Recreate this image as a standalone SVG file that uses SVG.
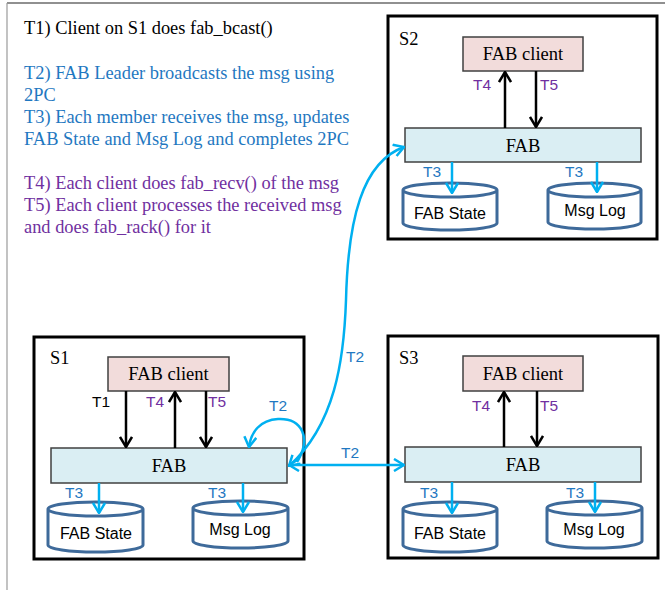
<svg xmlns="http://www.w3.org/2000/svg" width="665" height="590" viewBox="0 0 665 590">
  <style>
    .serif { font-family: "Liberation Serif", "Times New Roman", serif; }
    .sans { font-family: "Liberation Sans", Arial, sans-serif; }
    .note { font-size: 18.4px; }
    .black { fill: #000; }
    .blue { fill: #1f78c1; }
    .purple { fill: #7030a0; }
    .server { fill: #fff; stroke: #000; stroke-width: 3; }
    .client { fill: #f2dcdb; stroke: #404040; stroke-width: 1.5; }
    .fab { fill: #daeef3; stroke: #404040; stroke-width: 1.5; }
    .cyl { fill: #fff; stroke: #3e6a9a; stroke-width: 3; }
    .boxlabel { font-size: 18.5px; text-anchor: middle; fill: #000; }
    .dblabel { font-size: 16px; text-anchor: middle; fill: #000; }
    .tlabel { font-size: 15.5px; text-anchor: middle; }
    .callarrow { stroke: #000; stroke-width: 2.5; fill: none; marker-end: url(#headBlack); }
    .netarrow { stroke: #00b0f0; stroke-width: 2.5; fill: none; }
  </style>
  <defs>
    <marker id="headBlack" viewBox="0 0 12 14" refX="11" refY="7" markerWidth="12" markerHeight="14" markerUnits="userSpaceOnUse" orient="auto-start-reverse">
      <path d="M1,1 L11,7 L1,13" fill="none" stroke="#000" stroke-width="2.5"/>
    </marker>
    <marker id="headBlue" viewBox="0 0 12 14" refX="11" refY="7" markerWidth="12" markerHeight="14" markerUnits="userSpaceOnUse" orient="auto-start-reverse">
      <path d="M1,1 L11,7 L1,13" fill="none" stroke="#00b0f0" stroke-width="2.5"/>
    </marker>
  </defs>

  <!-- page frame -->
  <line x1="7" y1="3" x2="665" y2="3" stroke="#222" stroke-width="1.2"/>
  <line x1="7" y1="3" x2="7" y2="590" stroke="#9a9a9a" stroke-width="1.2"/>

  <!-- legend -->
  <g id="legend" class="serif note">
    <text x="24" y="34" class="black">T1) Client on S1 does fab_bcast()</text>
    <text x="24" y="79" class="blue">T2) FAB Leader broadcasts the msg using</text>
    <text x="24" y="101" class="blue">2PC</text>
    <text x="24" y="123" class="blue">T3) Each member receives the msg, updates</text>
    <text x="24" y="145" class="blue">FAB State and Msg Log and completes 2PC</text>
    <text x="24" y="189" class="purple">T4) Each client does fab_recv() of the msg</text>
    <text x="24" y="211" class="purple">T5) Each client processes the received msg</text>
    <text x="24" y="233" class="purple">and does fab_rack() for it</text>
  </g>

  <!-- server S2 -->
  <g id="S2">
    <rect class="server" x="388" y="16" width="269" height="223"/>
    <text class="serif" x="399" y="45" font-size="18.4">S2</text>
    <g id="S2-client">
      <rect class="client" x="463" y="37" width="120" height="34"/>
      <text class="serif boxlabel" x="523" y="60">FAB client</text>
    </g>
    <g id="S2-fab">
      <rect class="fab" x="405" y="128" width="236" height="34"/>
      <text class="serif boxlabel" x="523" y="152">FAB</text>
    </g>
    <g id="S2-state">
      <path class="cyl" d="M403,190 A47,7 0 0 1 497,190 V223 A47,7 0 0 1 403,223 Z M403,190 A47,7 0 0 0 497,190"/>
      <text class="sans dblabel" x="450" y="219">FAB State</text>
    </g>
    <g id="S2-log">
      <path class="cyl" d="M548,190 A46.5,7 0 0 1 641,190 V222 A46.5,7 0 0 1 548,222 Z M548,190 A46.5,7 0 0 0 641,190"/>
      <text class="sans dblabel" x="595" y="216">Msg Log</text>
    </g>
  </g>

  <!-- server S1 -->
  <g id="S1">
    <rect class="server" x="34" y="337" width="270" height="222"/>
    <text class="serif" x="50" y="364" font-size="18.4">S1</text>
    <g id="S1-client">
      <rect class="client" x="108" y="357" width="121" height="34"/>
      <text class="serif boxlabel" x="168.5" y="380">FAB client</text>
    </g>
    <g id="S1-fab">
      <rect class="fab" x="51" y="448" width="236" height="35"/>
      <text class="serif boxlabel" x="169" y="472">FAB</text>
    </g>
    <g id="S1-state">
      <path class="cyl" d="M48,509 A47.5,7 0 0 1 143,509 V545 A47.5,7 0 0 1 48,545 Z M48,509 A47.5,7 0 0 0 143,509"/>
      <text class="sans dblabel" x="96" y="539">FAB State</text>
    </g>
    <g id="S1-log">
      <path class="cyl" d="M193,508 A47.5,7 0 0 1 288,508 V541 A47.5,7 0 0 1 193,541 Z M193,508 A47.5,7 0 0 0 288,508"/>
      <text class="sans dblabel" x="240" y="535">Msg Log</text>
    </g>
  </g>

  <!-- server S3 -->
  <g id="S3">
    <rect class="server" x="388" y="336" width="270" height="222"/>
    <text class="serif" x="399" y="364" font-size="18.4">S3</text>
    <g id="S3-client">
      <rect class="client" x="463" y="356" width="120" height="35"/>
      <text class="serif boxlabel" x="523" y="380">FAB client</text>
    </g>
    <g id="S3-fab">
      <rect class="fab" x="405" y="447" width="236" height="35"/>
      <text class="serif boxlabel" x="523" y="471">FAB</text>
    </g>
    <g id="S3-state">
      <path class="cyl" d="M403,509 A47,7 0 0 1 497,509 V545 A47,7 0 0 1 403,545 Z M403,509 A47,7 0 0 0 497,509"/>
      <text class="sans dblabel" x="450" y="539">FAB State</text>
    </g>
    <g id="S3-log">
      <path class="cyl" d="M547,508 A47.5,7 0 0 1 642,508 V541 A47.5,7 0 0 1 547,541 Z M547,508 A47.5,7 0 0 0 642,508"/>
      <text class="sans dblabel" x="594" y="535">Msg Log</text>
    </g>
  </g>

  <!-- connectors -->
  <g id="connectors">
    <!-- client / FAB calls -->
    <line class="callarrow" x1="126" y1="391" x2="126" y2="447"/>
    <line class="callarrow" x1="175" y1="448" x2="175" y2="392"/>
    <line class="callarrow" x1="206" y1="391" x2="206" y2="447"/>
    <line class="callarrow" x1="505" y1="128" x2="505" y2="72"/>
    <line class="callarrow" x1="536" y1="71" x2="536" y2="127"/>
    <line class="callarrow" x1="504" y1="447" x2="504" y2="392"/>
    <line class="callarrow" x1="537" y1="391" x2="537" y2="446"/>

    <!-- FAB writes to state and log -->
    <line class="netarrow" marker-end="url(#headBlue)" x1="99" y1="483" x2="99" y2="513"/>
    <line class="netarrow" marker-end="url(#headBlue)" x1="243" y1="483" x2="243" y2="512"/>
    <line class="netarrow" marker-end="url(#headBlue)" x1="452" y1="162" x2="452" y2="193"/>
    <line class="netarrow" marker-end="url(#headBlue)" x1="597" y1="162" x2="597" y2="192"/>
    <line class="netarrow" marker-end="url(#headBlue)" x1="452" y1="482" x2="452" y2="513"/>
    <line class="netarrow" marker-end="url(#headBlue)" x1="595" y1="482" x2="595" y2="512"/>

    <!-- broadcast from S1 leader -->
    <path class="netarrow" marker-start="url(#headBlue)" marker-end="url(#headBlue)" d="M289,466 C335,425 344,360 346,300 C348,220 362,162 404,147"/>
    <line class="netarrow" marker-start="url(#headBlue)" marker-end="url(#headBlue)" x1="289" y1="465" x2="404" y2="465"/>
    <path class="netarrow" marker-end="url(#headBlue)" d="M297,462 C312,438 302,418 278,419 C260,420 251,432 249,447"/>

    <!-- step labels -->
    <g class="sans tlabel">
      <text x="101" y="407" class="black">T1</text>
      <text x="155" y="407" class="purple">T4</text>
      <text x="217" y="407" class="purple">T5</text>
      <text x="482" y="90" class="purple">T4</text>
      <text x="549" y="90" class="purple">T5</text>
      <text x="481" y="411" class="purple">T4</text>
      <text x="549" y="411" class="purple">T5</text>
      <text x="74" y="498" class="blue">T3</text>
      <text x="217" y="498" class="blue">T3</text>
      <text x="432" y="177" class="blue">T3</text>
      <text x="574" y="177" class="blue">T3</text>
      <text x="429" y="498" class="blue">T3</text>
      <text x="575" y="498" class="blue">T3</text>
      <text x="278" y="411" class="blue">T2</text>
      <text x="355" y="362" class="blue">T2</text>
      <text x="350" y="458" class="blue">T2</text>
    </g>
  </g>
</svg>
